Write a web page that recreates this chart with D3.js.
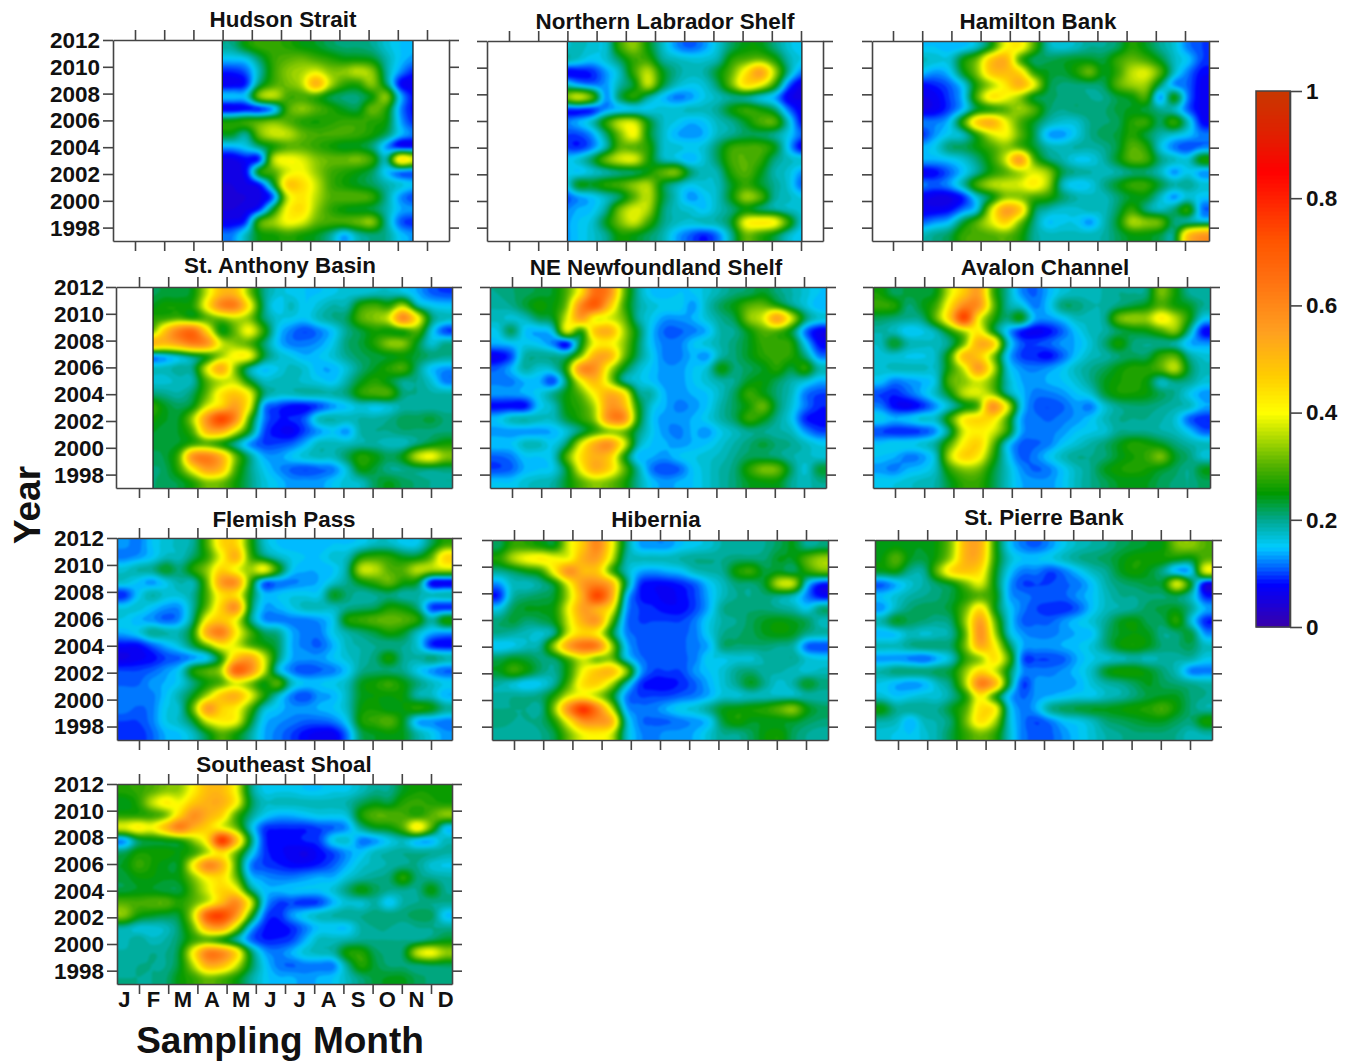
<!DOCTYPE html>
<html><head><meta charset="utf-8">
<style>html,body{margin:0;padding:0;background:#fff}svg{display:block}text{font-family:"Liberation Sans",Arial,sans-serif;font-weight:bold;fill:#111}</style>
<script src="https://cdn.jsdelivr.net/npm/d3@7"></script></head><body>
<script>
const years=[1998,2000,2002,2004,2006,2008,2010,2012];
const monthTicks=[1,2,3,4,5,6,7,8,9,10,11];
const monthLabels=["J","F","M","A","M","J","J","A","S","O","N","D"];
const legendTicks=[0,0.2,0.4,0.6,0.8,1];
const legendColors=["#3a00a8","#0000ff","#0060ff","#00ccff","#00a890","#009900","#50b000","#a8d800","#ffff00","#ffcc00","#ffa020","#ff7010","#ff5500","#ff0000","#e02000","#c83800"];
const legendStops=[0,0.08,0.11,0.15,0.2,0.25,0.3,0.35,0.4,0.47,0.55,0.65,0.72,0.85,0.92,1];

// Rows run 2012 (top) to 1997 (bottom); values in percent of the colour scale
const hudsonStrait=[
[20,25,28,28,27,25,24,22,21,21,20,17,15,14],
[15,16,22,28,30,31,29,27,25,25,24,19,15,13],
[9,11,19,28,33,35,38,33,33,36,33,20,13,9],
[7,9,22,29,32,36,52,36,28,27,33,22,8,7],
[15,16,33,36,29,29,28,23,21,21,25,33,15,8],
[7,8,9,14,29,33,30,27,24,23,31,27,13,8],
[26,28,30,32,30,27,26,27,28,28,27,25,14,9],
[24,20,32,37,36,31,29,29,29,28,26,22,15,12],
[14,16,21,26,30,30,28,26,24,24,21,13,8,8],
[6,8,10,36,40,38,33,31,31,32,28,19,43,38],
[6,8,26,30,38,40,34,29,27,25,22,15,12,11],
[5,6,9,24,47,45,37,29,26,24,22,19,17,15],
[5,5,6,12,37,43,36,30,30,30,28,20,13,10],
[5,6,10,25,41,44,34,28,25,24,23,19,14,13],
[7,10,29,34,40,38,31,29,29,31,33,20,11,9],
[12,18,25,26,28,26,24,20,14,19,21,20,15,13]];
const northernLabrador=[
[17,18,17,17,28,33,25,18,13,11,13,17,22,25,25,21,17,15],
[19,17,15,17,22,28,28,20,18,17,17,19,27,30,32,27,19,16],
[7,8,9,13,18,28,36,25,20,18,19,24,31,43,55,36,20,12],
[18,14,12,13,19,24,36,24,18,16,17,22,32,44,40,28,12,6],
[31,37,30,13,22,27,20,15,12,13,16,18,20,20,17,14,7,6],
[9,9,9,13,15,16,16,17,17,18,18,20,25,28,26,22,12,7],
[12,14,18,27,36,37,25,18,16,14,15,18,20,24,29,30,18,8],
[10,10,13,21,32,40,25,18,14,13,14,18,20,22,22,20,16,11],
[10,9,12,19,30,30,27,18,17,16,17,22,28,29,29,25,15,7],
[15,17,22,31,37,38,27,19,17,14,17,22,29,30,28,21,18,17],
[16,15,17,19,21,22,25,30,32,22,18,19,27,30,25,19,17,13],
[14,24,24,27,29,33,35,24,19,16,17,18,24,28,24,20,17,11],
[10,13,15,18,22,30,36,24,18,13,15,18,25,34,30,20,18,16],
[12,14,15,20,32,38,35,22,18,17,15,18,21,25,22,20,18,17],
[13,15,17,24,32,37,29,21,18,17,18,19,24,40,43,41,28,17],
[13,15,17,20,26,25,22,19,14,11,9,12,20,31,28,24,18,15]];
const hamiltonBank=[
[15,15,14,15,18,26,40,42,30,19,17,18,20,20,22,27,24,20,17,12,10],
[18,17,17,25,32,48,52,30,22,22,23,24,24,23,28,31,29,24,18,15,10],
[15,13,15,24,33,48,50,45,28,24,23,26,31,24,28,36,38,30,18,12,8],
[8,9,11,16,27,35,43,52,40,24,21,21,21,22,30,34,34,22,13,11,7],
[6,7,10,15,30,43,40,34,24,22,21,21,20,20,23,25,29,13,25,12,7],
[6,7,10,15,24,27,30,34,30,22,20,21,21,21,23,24,23,20,18,11,7],
[12,12,15,28,47,52,40,30,24,19,17,17,20,21,22,27,28,22,28,18,8],
[9,13,16,18,27,37,40,31,23,14,13,16,20,22,23,27,23,19,17,15,12],
[14,16,21,22,25,29,33,30,24,19,18,19,19,20,23,30,27,17,12,10,12],
[14,14,15,17,21,27,37,56,31,22,19,16,16,19,24,30,29,21,18,17,26],
[7,8,11,15,20,26,30,35,38,34,23,20,19,18,19,21,21,18,13,16,13],
[12,11,13,19,29,35,37,38,42,35,19,15,16,20,24,28,28,23,19,20,17],
[7,6,6,9,17,24,33,33,29,27,22,19,18,18,21,24,24,18,13,17,15],
[7,7,8,12,17,37,55,48,24,19,17,17,18,18,22,28,21,18,21,27,12],
[11,13,15,23,30,38,46,33,21,15,16,16,13,18,24,35,33,31,21,20,19],
[18,20,22,28,29,30,31,27,20,18,18,18,18,19,22,25,25,23,21,48,56]];
const stAnthonyBasin=[
[22,23,23,25,37,50,50,33,21,17,16,15,15,16,17,17,18,18,17,14,11,10],
[24,26,26,27,42,60,62,42,22,15,18,15,17,19,19,27,29,27,35,20,16,15],
[27,28,30,27,30,32,36,33,22,17,16,15,18,20,22,30,33,38,60,42,22,18],
[30,48,62,66,45,25,31,40,28,16,12,10,12,15,20,23,26,25,26,30,17,10],
[52,50,55,62,58,38,33,30,22,15,12,12,13,16,21,23,27,33,33,24,17,20],
[13,15,18,22,26,34,41,40,24,18,16,14,15,17,20,22,23,24,25,23,21,20],
[18,18,20,21,38,53,33,20,15,16,18,17,14,14,17,21,24,27,29,21,15,13],
[17,17,18,19,30,36,36,25,18,18,18,17,16,15,19,24,27,24,20,20,17,12],
[21,20,19,22,31,43,48,40,22,18,18,19,19,19,21,27,29,29,21,20,19,19],
[28,24,22,25,38,46,55,40,14,10,8,8,10,13,15,17,16,17,19,19,19,19],
[26,24,24,35,58,75,60,30,13,9,9,11,18,19,18,19,19,20,22,22,23,21],
[24,23,24,30,50,52,38,24,11,8,7,10,13,15,13,19,20,20,21,21,21,21],
[23,23,24,28,30,26,20,13,10,10,11,14,18,18,18,19,19,18,18,21,24,26],
[22,23,30,58,62,52,32,21,14,13,15,17,18,18,22,27,25,22,25,36,40,33],
[21,22,28,42,55,50,30,21,16,13,11,10,11,12,17,25,23,20,20,21,21,21],
[21,22,23,27,33,32,26,21,17,15,13,13,13,15,17,18,22,24,22,21,20,20]];
const neNewfoundland=[
[20,21,22,23,24,30,44,66,60,33,20,15,14,15,15,17,19,21,22,24,21,19,17,15],
[19,20,23,26,25,33,60,70,50,30,20,17,16,16,13,18,22,25,30,31,27,21,17,14],
[18,17,18,22,24,38,55,40,38,32,20,16,13,13,14,17,20,23,33,38,55,38,22,17],
[16,22,15,14,17,38,27,48,52,36,24,15,11,11,12,14,19,20,25,30,30,24,12,7],
[14,15,16,15,12,8,24,40,42,34,23,15,12,12,15,17,19,21,24,28,28,27,16,8],
[7,10,19,20,20,21,33,52,52,33,22,16,12,12,14,13,19,21,24,27,28,27,21,12],
[11,14,19,17,18,28,58,58,38,25,18,15,13,13,15,17,25,21,22,24,27,23,27,19],
[12,12,14,14,10,22,40,50,36,21,17,15,13,13,15,17,19,20,24,25,22,19,17,14],
[13,13,14,16,20,25,31,42,52,45,22,19,14,13,14,15,18,22,28,25,21,18,12,10],
[8,8,8,15,18,25,28,36,56,52,27,17,14,12,13,15,19,22,26,31,22,17,12,9],
[15,18,19,18,18,23,27,34,58,60,28,16,13,13,14,16,19,22,28,25,20,16,9,8],
[13,13,13,13,14,17,22,28,33,32,22,16,13,12,14,13,16,18,20,20,19,18,13,10],
[15,15,18,18,16,22,38,52,58,40,20,15,14,13,14,15,17,19,21,23,21,20,18,16],
[11,12,15,15,17,30,44,52,48,28,15,14,13,15,16,17,18,20,22,22,21,19,18,17],
[10,11,14,15,16,24,40,52,46,32,20,12,10,11,15,17,19,21,27,32,31,22,17,23],
[15,15,17,18,19,24,30,34,32,27,20,15,13,14,15,17,19,21,24,25,25,20,18,20]];
const avalonChannel=[
[26,22,23,23,25,38,48,55,30,20,13,11,14,17,18,18,19,20,20,21,32,26,20,19],
[28,27,21,24,29,44,60,58,33,20,17,12,15,21,21,19,19,21,23,25,30,26,24,20],
[22,21,20,21,31,48,75,42,28,21,25,14,13,15,18,18,20,31,34,34,42,36,26,16],
[19,18,15,16,19,27,36,42,26,15,9,7,8,11,15,18,19,22,24,25,29,33,20,8],
[18,24,19,18,18,21,32,52,48,20,11,10,11,13,14,17,21,26,21,20,20,19,14,13],
[17,17,16,16,18,28,50,48,34,16,10,9,8,11,15,18,19,21,22,22,28,30,20,17],
[17,18,18,18,18,27,38,56,38,18,13,12,13,15,18,20,22,25,27,27,30,36,23,18],
[15,12,13,14,17,30,33,38,31,19,14,13,14,15,17,20,24,26,27,25,18,21,20,17],
[10,9,11,14,18,25,36,38,34,21,15,12,12,13,15,17,23,26,26,25,22,20,16,13],
[12,8,7,9,13,18,24,30,58,40,17,11,10,11,13,12,17,20,21,21,20,19,18,14],
[16,14,15,17,18,28,42,45,44,30,14,12,11,12,13,15,18,20,20,20,19,17,11,9],
[10,9,9,10,13,22,38,42,38,28,14,12,12,13,15,16,17,20,20,20,19,18,15,11],
[15,16,16,17,20,30,42,46,32,17,11,11,12,15,17,19,21,24,27,26,24,21,19,18],
[15,14,12,13,18,36,46,42,28,17,11,12,15,18,20,20,21,24,26,28,32,24,21,17],
[13,12,14,15,18,28,33,32,24,18,13,11,12,15,18,20,24,26,27,26,24,22,20,24],
[16,16,17,18,19,24,28,28,23,18,14,13,13,15,18,20,22,24,24,24,22,21,20,22]];
const flemishPass=[
[13,12,15,17,18,20,30,45,46,28,18,15,14,14,14,15,15,16,18,18,16,16,22,28],
[12,13,15,18,18,22,28,40,52,30,22,18,16,15,15,17,18,26,28,27,24,24,30,45],
[17,19,20,24,21,27,34,46,40,34,40,27,16,14,14,15,20,36,36,30,30,36,35,36],
[17,15,13,16,19,19,32,56,58,30,12,12,12,13,14,17,20,25,28,31,26,24,8,7],
[9,15,19,17,17,20,30,44,44,26,15,15,16,16,16,24,21,19,20,21,19,19,18,19],
[16,17,15,13,13,20,32,47,58,25,14,14,16,18,18,18,20,21,22,26,25,21,10,9],
[16,14,13,11,13,22,42,48,40,22,13,12,12,12,13,16,26,28,30,31,30,27,19,26],
[14,16,20,19,19,27,54,62,43,30,22,20,14,12,12,16,19,21,23,26,24,18,14,13],
[8,8,11,14,17,23,32,42,38,30,26,22,14,12,11,14,18,19,20,20,20,17,9,8],
[6,7,8,10,11,13,16,27,48,54,38,22,14,13,13,15,17,19,21,26,20,19,21,19],
[10,10,11,13,16,26,30,36,68,60,38,18,12,10,11,12,15,20,21,21,20,16,13,11],
[11,11,13,14,16,21,26,30,38,33,25,30,18,15,15,16,18,24,26,28,25,21,18,16],
[12,12,12,15,19,25,36,48,52,40,27,18,12,10,13,14,18,24,25,25,25,19,18,14],
[12,11,12,16,18,32,56,46,42,30,18,15,13,13,14,15,18,25,26,24,25,27,25,20],
[10,10,12,16,18,24,38,42,40,25,15,13,12,11,11,12,16,26,28,30,24,14,13,12],
[9,9,11,14,15,18,24,30,26,20,14,12,10,8,7,7,12,22,24,25,24,19,16,13]];
const hibernia=[
[22,28,28,26,25,38,48,60,42,22,14,13,13,15,16,17,19,19,19,20,22,24,20,21],
[27,35,40,42,40,40,52,55,38,20,18,18,18,19,20,20,20,21,21,21,24,24,30,34],
[20,22,25,28,42,58,50,48,30,19,14,13,14,15,18,19,20,26,28,23,24,22,27,31],
[13,18,18,20,25,40,56,60,52,24,10,8,8,9,11,15,18,21,21,24,36,36,16,9],
[9,19,21,22,24,36,54,75,55,18,9,8,7,8,10,14,18,20,20,21,20,18,12,8],
[16,22,24,24,26,40,55,52,42,15,10,9,8,8,10,14,20,21,21,21,20,19,16,21],
[21,23,21,22,25,38,52,56,32,13,10,10,10,10,12,16,19,20,22,24,25,24,22,18],
[20,19,18,17,21,38,46,42,25,13,11,11,11,11,12,16,20,21,22,24,25,24,20,19],
[15,16,18,20,35,55,65,62,36,16,11,11,11,11,12,14,21,21,21,21,20,19,11,10],
[22,24,23,21,22,30,38,32,32,18,12,11,11,11,12,16,16,17,17,19,19,20,17,16],
[24,28,25,21,20,27,40,48,50,35,15,10,10,10,13,15,17,20,21,19,19,18,17,18],
[19,17,15,16,20,30,44,46,36,20,10,8,8,9,11,14,17,20,24,20,17,19,24,21],
[19,20,20,21,27,38,42,36,26,13,10,10,10,11,12,14,17,17,18,18,18,18,19,19],
[20,20,20,20,34,60,78,62,38,15,12,12,14,16,17,20,24,25,26,27,30,33,25,22],
[21,20,20,21,27,42,58,58,52,20,12,11,11,12,13,15,23,26,24,24,24,24,22,21],
[19,19,19,20,23,32,40,42,38,19,13,12,13,13,14,17,20,20,22,25,26,22,20,19]];
const stPierreBank=[
[24,25,24,24,26,34,52,52,28,16,12,11,13,16,18,19,20,22,23,24,25,32,33,30],
[25,30,24,23,27,36,52,50,28,18,15,15,16,18,20,21,22,24,26,26,26,25,24,30],
[24,25,20,20,32,45,48,44,26,16,12,12,10,12,15,18,20,24,26,24,20,14,15,38],
[11,14,17,19,22,25,32,38,25,14,10,10,10,11,12,15,19,21,22,23,24,38,24,7],
[15,17,19,20,21,23,27,30,26,14,12,11,11,11,13,15,18,20,20,21,21,22,18,9],
[13,18,21,22,22,24,32,44,26,16,12,10,9,9,11,15,18,19,20,22,23,24,20,14],
[19,24,22,21,20,22,35,55,32,17,11,11,11,13,15,17,20,24,25,22,22,27,17,9],
[14,15,18,17,18,20,32,58,36,18,13,12,12,13,14,15,21,24,25,24,20,21,23,13],
[18,18,20,21,21,22,33,52,42,24,14,13,13,14,15,17,21,25,26,24,21,21,22,18],
[13,13,12,11,14,18,28,34,44,30,11,10,10,11,14,16,17,18,19,18,19,19,19,16],
[19,21,21,21,22,24,34,45,38,24,13,12,12,13,15,18,24,26,26,24,21,18,12,12],
[16,14,13,14,18,22,36,62,52,24,10,13,13,13,14,17,19,20,22,24,22,21,20,19],
[17,15,16,17,17,20,27,42,28,15,11,13,14,15,16,16,18,19,21,23,24,24,21,20],
[25,20,20,20,20,24,30,44,42,18,12,14,20,22,23,24,24,25,26,27,29,25,21,19],
[19,18,14,18,19,22,32,44,36,18,12,10,12,15,16,18,21,22,23,24,24,22,21,26],
[17,16,15,17,19,23,28,32,28,18,12,11,11,13,15,17,19,20,21,21,21,20,18,19]];
const southeastShoal=[
[27,28,30,33,34,42,50,50,40,22,16,16,16,15,15,16,16,18,20,20,24,26,26,26],
[24,27,36,42,40,48,52,52,42,24,18,18,18,18,18,18,19,22,24,23,27,28,27,26],
[27,27,28,32,46,58,52,46,30,21,16,14,14,15,16,16,17,26,30,30,29,27,30,33],
[38,42,40,50,62,52,46,40,32,18,10,9,9,9,10,11,13,20,24,25,30,42,30,16],
[13,22,24,25,27,34,45,78,52,24,10,8,8,9,10,16,17,12,13,16,18,15,14,18],
[22,26,26,26,25,28,36,44,32,18,10,8,7,6,8,10,13,15,18,19,20,20,20,19],
[24,28,26,24,25,42,60,52,30,13,10,9,8,8,9,11,14,17,18,19,20,20,17,16],
[23,25,25,24,25,33,42,44,32,16,13,12,12,13,14,14,17,19,20,21,27,21,20,19],
[23,24,24,23,23,30,38,46,42,23,15,14,15,15,15,17,21,25,22,20,20,20,25,20],
[30,29,30,30,27,31,38,50,60,40,16,10,10,9,10,14,17,17,19,15,19,20,20,20],
[33,26,24,23,24,38,70,75,58,30,12,9,13,16,18,19,20,20,21,21,21,22,22,15],
[19,17,17,18,22,32,52,55,36,16,9,8,9,12,15,15,15,19,20,20,19,20,20,20],
[18,20,18,19,22,28,30,26,20,12,9,9,10,14,18,18,19,20,20,20,20,20,22,24],
[19,19,20,20,24,42,62,60,46,24,14,12,14,17,18,19,26,27,22,21,22,36,40,34],
[19,20,20,20,24,36,52,50,38,24,16,12,11,12,12,12,20,27,23,21,21,21,22,22],
[20,20,20,21,25,28,32,30,26,20,16,14,14,13,14,15,18,21,23,24,24,22,21,21]];

const panels=[
{t:"Hudson Strait",g:hudsonStrait,fc:8,x0:113,x1:449,y0:40,y1:241,k:135,tx:283,ty:27,from:3.99,to:10.52,yl:100},
{t:"Northern Labrador Shelf",g:northernLabrador,fc:5,x0:487,x1:823,y0:41,y1:241,k:509,tx:665,ty:29,from:3,to:11.03},
{t:"Hamilton Bank",g:hamiltonBank,fc:3,x0:872,x1:1209,y0:41,y1:241,k:893,tx:1038,ty:29,from:2.02},
{t:"St. Anthony Basin",g:stAnthonyBasin,fc:2,x0:116,x1:452,y0:287,y1:488,k:139,tx:280,ty:273,from:1.48,yl:104},
{t:"NE Newfoundland Shelf",g:neNewfoundland,fc:0,x0:490,x1:826,y0:287,y1:488,k:512,tx:656,ty:275},
{t:"Avalon Channel",g:avalonChannel,fc:0,x0:873,x1:1210,y0:287,y1:488,k:895,tx:1045,ty:275},
{t:"Flemish Pass",g:flemishPass,fc:0,x0:117,x1:452,y0:538,y1:740,k:139,tx:284,ty:527,yl:104},
{t:"Hibernia",g:hibernia,fc:0,x0:492,x1:828,y0:540,y1:740,k:514,tx:656,ty:527},
{t:"St. Pierre Bank",g:stPierreBank,fc:0,x0:875,x1:1212,y0:540,y1:740,k:898,tx:1044,ty:525},
{t:"Southeast Shoal",g:southeastShoal,fc:0,x0:117,x1:452,y0:784,y1:984,k:139,tx:284,ty:772,yl:104,months:true}
];

const color=d3.scaleLinear().domain(legendStops).range(legendColors).clamp(true);
const svg=d3.select("body").append("svg").attr("width",1355).attr("height",1064);
const defs=svg.append("defs");
defs.append("filter").attr("id","soft").attr("x","-5%").attr("y","-5%").attr("width","110%").attr("height","110%")
  .attr("color-interpolation-filters","sRGB").append("feGaussianBlur").attr("stdDeviation",0.8);

const COLS=24,ROWS=16,STEP=0.0125,F=4;
const thresholds=d3.range(0,1.0001,STEP);
const AX="#444";
function styleAxis(g){
  g.selectAll("path,line").attr("stroke",AX).attr("stroke-width",1.6);
  g.selectAll("text").attr("font-size",22.5).attr("font-family",'"Liberation Sans",Arial,sans-serif').attr("font-weight","bold").attr("fill","#111");
}
// Drawing helper: a smooth curve through the read values so the colour bands are rounded
function cr(a,b,c,d,t){return 0.5*(2*b+(c-a)*t+(2*a-5*b+4*c-d)*t*t+(3*b-a-3*c+d)*t*t*t);}
function smooth(rows){
  const h=rows.length,w=rows[0].length,at=(arr,i)=>arr[Math.max(0,Math.min(arr.length-1,i))];
  const line=(arr,n)=>d3.range(n*F).map(u=>{
    const s=(u+0.5)/F-0.5,i=Math.floor(s),t=s-i;
    return cr(at(arr,i-1),at(arr,i),at(arr,i+1),at(arr,i+2),t);
  });
  const wide=rows.map(r=>line(r,w));
  const out=[];
  for(let u=0;u<h*F;u++) out.push([]);
  for(let c=0;c<w*F;c++){
    const col=line(wide.map(r=>r[c]),h);
    col.forEach((v,u)=>out[u].push(v));
  }
  return out.flat();
}

panels.forEach((p,i)=>{
  const x=d3.scaleLinear().domain([1,11]).range([p.k,p.k+292]);
  const y=d3.scaleLinear().domain([1997,2012]).range([p.y1,p.y0]);
  const rows=p.g.map(r=>{
    const full=d3.range(COLS).map(c=>r[Math.max(0,Math.min(r.length-1,c-p.fc))]/100);
    return [full[0],...full,full[COLS-1]];
  });
  const padded=[rows[0],...rows,rows[ROWS-1]];
  const values=smooth(padded);
  const sx=d3.scaleLinear().domain([F,(COLS+1)*F]).range([p.x0,p.x1]);
  const sy=d3.scaleLinear().domain([F,(ROWS+1)*F]).range([p.y0,p.y1]);
  const path=d3.geoPath(d3.geoTransform({point(a,b){this.stream.point(sx(a),sy(b));}}));
  const bands=d3.contours().size([(COLS+2)*F,(ROWS+2)*F]).thresholds(thresholds)(values);
  const dx0=p.from?x(p.from):p.x0, dx1=p.to?x(p.to):p.x1;
  defs.append("clipPath").attr("id","clip"+i).append("rect").attr("x",dx0).attr("y",p.y0).attr("width",dx1-dx0).attr("height",p.y1-p.y0);
  const root=svg.append("g").attr("class","panel");
  const heat=root.append("g").attr("clip-path",`url(#clip${i})`).append("g").attr("filter","url(#soft)");
  heat.selectAll("path").data(bands).join("path").attr("d",path).attr("fill",d=>color(d.value+STEP/2));
  if(p.from) root.append("line").attr("x1",dx0).attr("x2",dx0).attr("y1",p.y0).attr("y2",p.y1).attr("stroke","#222").attr("stroke-width",1.3);
  if(p.to) root.append("line").attr("x1",dx1).attr("x2",dx1).attr("y1",p.y0).attr("y2",p.y1).attr("stroke","#222").attr("stroke-width",1.3);

  const xAxisScale=x.copy().domain([x.invert(p.x0),x.invert(p.x1)]).range([p.x0,p.x1]);
  root.append("g").attr("transform",`translate(0,${p.y0})`).call(d3.axisTop(xAxisScale).tickValues(monthTicks).tickSize(10).tickSizeOuter(0).tickFormat("")).call(styleAxis);
  root.append("g").attr("transform",`translate(0,${p.y1})`).call(d3.axisBottom(xAxisScale).tickValues(monthTicks).tickSize(10).tickSizeOuter(0).tickFormat("")).call(styleAxis);
  const la=root.append("g").attr("transform",`translate(${p.x0},0)`).call(d3.axisLeft(y).tickValues(years).tickSize(10).tickSizeOuter(0).tickFormat(p.yl?d3.format("d"):"").tickPadding(p.yl?p.x0-10-p.yl:3)).call(styleAxis);
  la.selectAll("text").attr("dy","0.33em");
  root.append("g").attr("transform",`translate(${p.x1},0)`).call(d3.axisRight(y).tickValues(years).tickSize(10).tickSizeOuter(0).tickFormat("")).call(styleAxis);
  root.append("text").attr("x",p.tx).attr("y",p.ty).attr("text-anchor","middle").attr("font-size",22.4).text(p.t);
  if(p.months){
    root.selectAll("text.mon").data(monthLabels).join("text").attr("class","mon")
      .attr("x",(d,m)=>x(m+0.5)).attr("y",1007).attr("text-anchor","middle").attr("font-size",22).text(d=>d);
  }
});

const legendY=d3.scaleLinear().domain([0,1]).range([627,91]);
const legend=svg.append("g");
const legendSteps=d3.range(0,1,1/134);
legend.selectAll("rect").data(legendSteps).join("rect")
  .attr("x",1256).attr("width",34).attr("y",d=>legendY(d+1/134)).attr("height",d=>legendY(d)-legendY(d+1/134)+0.5)
  .attr("fill",d=>color(d+1/268));
legend.append("rect").attr("x",1256).attr("y",91).attr("width",34).attr("height",536).attr("fill","none").attr("stroke",AX).attr("stroke-width",1.5);
legend.append("g").attr("transform","translate(1290,0)")
  .call(d3.axisRight(legendY).tickValues(legendTicks).tickSize(12).tickSizeOuter(0).tickPadding(4).tickFormat(d3.format("~g"))).call(styleAxis);

svg.append("text").attr("transform","translate(40,505) rotate(-90)").attr("text-anchor","middle").attr("font-size",37).attr("fill","#000").text("Year");
svg.append("text").attr("x",280).attr("y",1053).attr("text-anchor","middle").attr("font-size",37).attr("fill","#000").text("Sampling Month");
</script></body></html>
